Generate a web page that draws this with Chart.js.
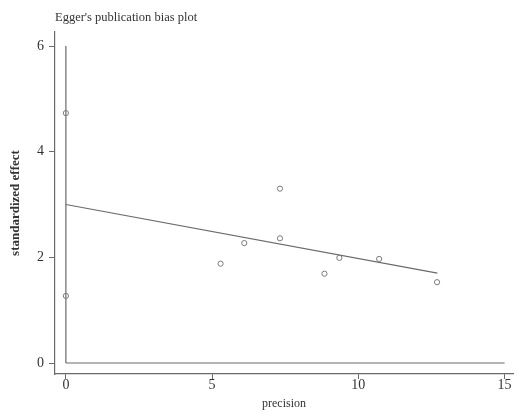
<!DOCTYPE html>
<html>
<head>
<meta charset="utf-8">
<script src="https://cdn.jsdelivr.net/npm/chart.js@4"></script>
<style>
  html, body { margin: 0; padding: 0; background: #fff; }
  #wrap { width: 518px; height: 412px; }
</style>
</head>
<body>
<div id="wrap"><canvas id="eggerChart"></canvas></div>
<script>
// study points: precision vs standardized effect
const precision = [0, 0, 5.29, 6.1, 7.32, 7.32, 8.84, 9.35, 10.71, 12.69];
const stdEffect = [4.73, 1.27, 1.88, 2.27, 3.30, 2.36, 1.69, 1.99, 1.97, 1.53];

// fitted regression line (ends)
const fitX = [0, 12.7];
const fitY = [3.0, 1.70];

// reference lines at x=0 and y=0
const vlineX = [0, 0];
const vlineY = [0, 6];
const hlineX = [0, 15];
const hlineY = [0, 0];

const xTicks = [0, 5, 10, 15];
const yTicks = [0, 2, 4, 6];

const serif = '"Liberation Serif", "Times New Roman", serif';
const lineColor = '#6a6a6a';
const textColor = '#333';

function pairs(xs, ys) {
    return xs.map((x, i) => ({ x: x, y: ys[i] }));
}

const ctx = document.getElementById('eggerChart').getContext('2d');

new Chart(ctx, {
    type: 'scatter',
    data: {
        datasets: [
            {
                label: 'studies',
                data: pairs(precision, stdEffect),
                pointStyle: 'circle',
                pointRadius: 2.6,
                borderColor: '#7a7a7a',
                backgroundColor: 'rgba(255,255,255,0)',
                borderWidth: 1
            },
            {
                label: 'fit',
                type: 'line',
                data: pairs(fitX, fitY),
                borderColor: lineColor,
                borderWidth: 1.2,
                pointRadius: 0
            },
            {
                label: 'x0',
                type: 'line',
                data: pairs(vlineX, vlineY),
                borderColor: lineColor,
                borderWidth: 1.2,
                pointRadius: 0
            },
            {
                label: 'y0',
                type: 'line',
                data: pairs(hlineX, hlineY),
                borderColor: lineColor,
                borderWidth: 1.2,
                pointRadius: 0
            }
        ]
    },
    options: {
        responsive: true,
        maintainAspectRatio: false,
        animation: false,
        layout: { padding: 0 },
        plugins: {
            legend: { display: false },
            tooltip: { enabled: false },
            title: {
                display: true,
                text: "Egger's publication bias plot",
                align: 'start',
                fullSize: false,
                color: textColor,
                font: { family: serif, size: 12.5, weight: 'normal' },
                padding: { top: 10, bottom: 7 }
            }
        },
        scales: {
            x: {
                type: 'linear',
                min: -0.372,
                max: 15.287,
                afterBuildTicks: scale => { scale.ticks = xTicks.map(v => ({ value: v })); },
                afterFit: scale => { scale.height = 38; },
                grid: { drawOnChartArea: false, drawTicks: true, tickLength: 5, color: lineColor },
                border: { display: true, color: lineColor, width: 1.2 },
                ticks: { color: textColor, padding: -2, maxRotation: 0, font: { family: serif, size: 14 } },
                title: {
                    display: true,
                    text: 'precision',
                    color: textColor,
                    font: { family: serif, size: 12 },
                    padding: { top: 0, bottom: 1 }
                }
            },
            y: {
                type: 'linear',
                min: -0.208,
                max: 6.265,
                afterBuildTicks: scale => { scale.ticks = yTicks.map(v => ({ value: v })); },
                afterFit: scale => { scale.width = 55; },
                grid: { drawOnChartArea: false, drawTicks: true, tickLength: 6, color: lineColor },
                border: { display: true, color: lineColor, width: 1.2 },
                ticks: { color: textColor, padding: 5, font: { family: serif, size: 14 } },
                title: {
                    display: true,
                    text: 'standardized effect',
                    color: textColor,
                    font: { family: serif, size: 13, weight: 'bold' },
                    padding: { top: 8, bottom: 0 }
                }
            }
        }
    }
});
</script>
</body>
</html>
